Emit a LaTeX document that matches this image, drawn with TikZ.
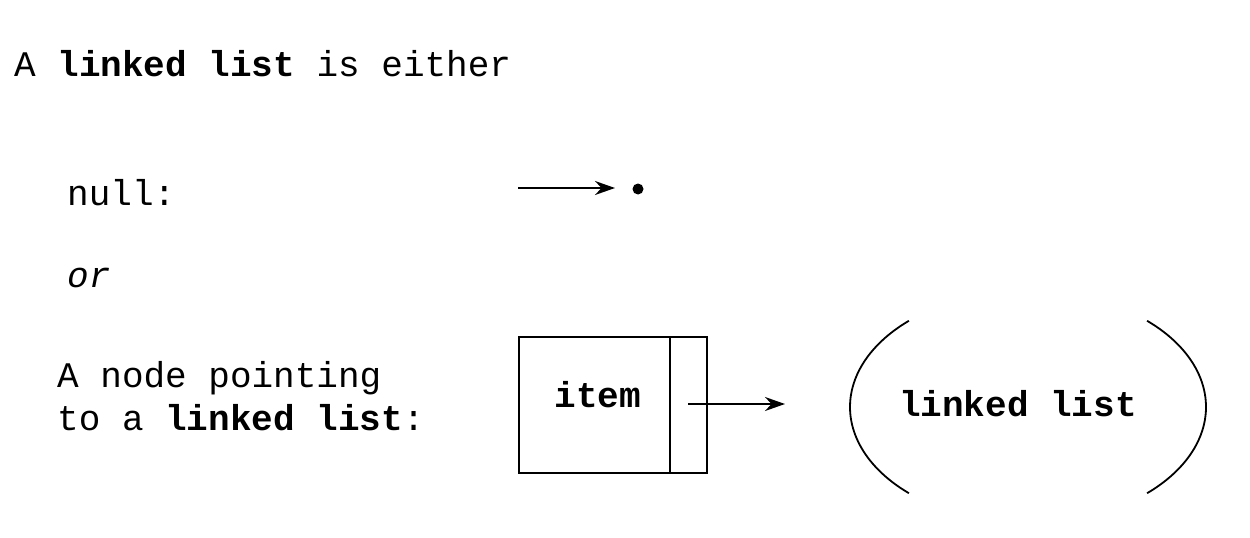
\documentclass[tikz,border=0pt]{standalone}
\usepackage{fontspec}
\setmainfont{Liberation Mono}
\setmonofont{Liberation Mono}
\usetikzlibrary{arrows.meta}
\begin{document}
\begin{tikzpicture}[x=1pt,y=-1pt,
  txt/.style={font=\fontsize{36}{42}\selectfont, inner sep=0pt, anchor=base west},
  ctr/.style={font=\fontsize{36}{42}\selectfont\bfseries, inner sep=0pt},
  ln/.style={line width=1.8pt},
  arr/.style={line width=1.6pt, -{Stealth[length=20pt,width=14pt]}}]
\useasboundingbox (0,0) rectangle (1250,538);
\node[txt] (title) at (14,76) {A \textbf{linked list} is either};
\node[txt] (null) at (67,205) {null:};
\node[txt] (or) at (67,287) {\itshape or};
\node[txt] (l1) at (57,387) {A node pointing};
\node[txt] (l2) at (57,430) {to a \textbf{linked list}:};
% null arrow
\coordinate (a1s) at (518,188);
\node[circle, fill=black, inner sep=0pt, minimum size=11pt] (dot) at (638,189) {};
\draw[arr] (a1s) -- (615,188) coordinate (a1e);
% node box
\node[draw, ln, minimum width=151pt, minimum height=136pt, inner sep=0pt, anchor=north west] (item) at (518,336) {};
\node[draw, ln, minimum width=37pt, minimum height=136pt, inner sep=0pt, anchor=north west] (ptr) at (669,336) {};
\node[ctr] (itemtxt) at (598,395) {item};
\coordinate (a2s) at (688,404);
\node[ctr] (ll) at (1018,404) {linked list};
\draw[arr] (a2s) -- (785,404) coordinate (a2e);
% ellipse arcs
\draw[ln] (1028,407) ++(132:178 and 116) arc[start angle=132, end angle=228, x radius=178, y radius=116];
\draw[ln] (1028,407) ++(-48:178 and 116) arc[start angle=-48, end angle=48, x radius=178, y radius=116];
\end{tikzpicture}
\end{document}
